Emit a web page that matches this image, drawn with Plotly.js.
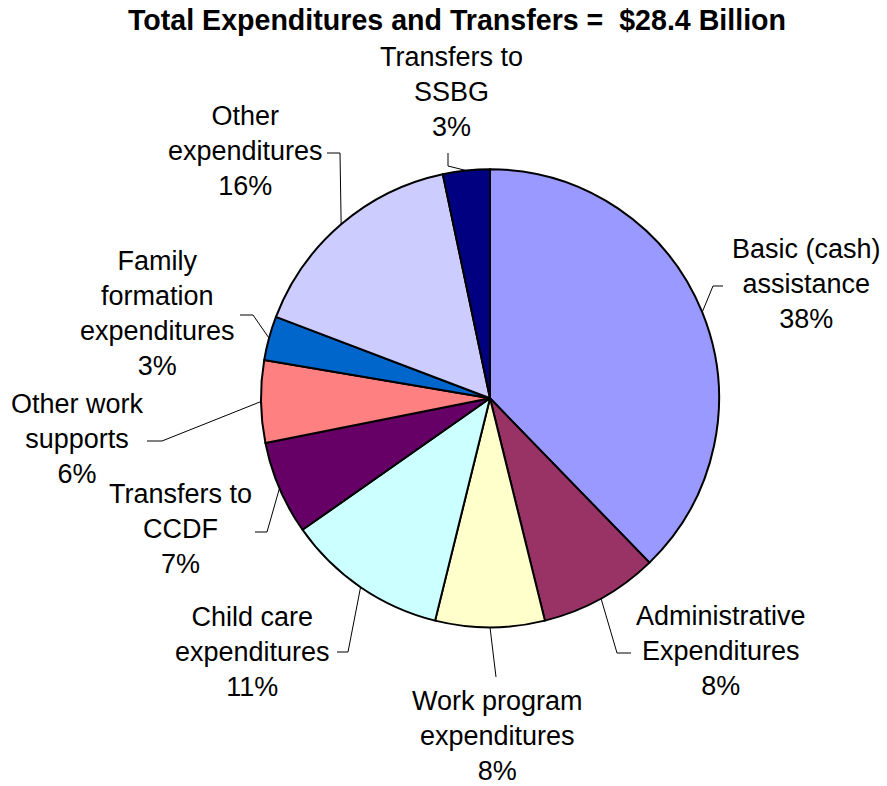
<!DOCTYPE html>
<html>
<head>
<meta charset="utf-8">
<script src="https://cdn.plot.ly/plotly-3.0.1.min.js"></script>
<style>html,body{margin:0;padding:0;background:#fff;}</style>
</head>
<body>
<div id="chart" style="width:887px;height:786px;"></div>
<script>
// ---- data ----
var categories = [
  "Basic (cash)<br>assistance",
  "Administrative<br>Expenditures",
  "Work program<br>expenditures",
  "Child care<br>expenditures",
  "Transfers to<br>CCDF",
  "Other work<br>supports",
  "Family<br>formation<br>expenditures",
  "Other<br>expenditures",
  "Transfers to<br>SSBG"
];
var shares = [37.7, 8.4, 7.7, 11.4, 6.6, 5.8, 3.1, 15.9, 3.3];
var colors = ["#9999FF", "#993366", "#FFFFCC", "#CCFFFF", "#660066",
              "#FF8080", "#0066CC", "#CCCCFF", "#000080"];
var chartTitle = "Total Expenditures and Transfers =  $28.4 Billion";

// ---- layout (pixel geometry) ----
var W = 887, H = 786;
var cx = 490, cy = 398.3, R = 229;
// label centre and leader-line points on label side: [labelX, labelY, ax, ay, bx, by]
var labelGeo = [
  [806, 284, 723, 286, 713, 286],
  [721, 651, 631, 653, 617, 653],
  [497, 736, 496, 677, 496, 677],
  [253, 652, 337, 652, 348, 652],
  [180, 529, 255, 532, 267, 532],
  [77.5, 439, 147, 441, 162, 441],
  [157, 313.5, 240, 315, 253, 315],
  [245, 151, 327, 153, 340, 153],
  [451, 92, 448, 153, 448, 166]
];

function px(x) { return x / W; }
function py(y) { return 1 - y / H; }

var total = shares.reduce(function (a, b) { return a + b; }, 0);
var annotations = [];
var shapes = [];
var cum = 0;
for (var i = 0; i < shares.length; i++) {
  var mid = (cum + shares[i] / 2) / total * 2 * Math.PI;
  cum += shares[i];
  var ex = cx + R * Math.sin(mid);
  var ey = cy - R * Math.cos(mid);
  var g = labelGeo[i];
  var pct = Math.round(shares[i] / total * 100);
  annotations.push({
    xref: "paper", yref: "paper",
    x: px(g[0]), y: py(g[1]),
    xanchor: "center", yanchor: "middle",
    text: categories[i] + "<br>" + pct + "%",
    showarrow: false,
    align: "center",
    font: { family: "Liberation Sans, Arial, sans-serif", size: 27, color: "#000" }
  });
  shapes.push({
    type: "path", xref: "paper", yref: "paper",
    path: "M " + px(g[2]) + "," + py(g[3]) + " L " + px(g[4]) + "," + py(g[5]) +
          " L " + px(ex) + "," + py(ey),
    line: { color: "#000", width: 1 }
  });
}

var trace = {
  type: "pie",
  labels: categories,
  values: shares,
  sort: false,
  direction: "clockwise",
  rotation: 0,
  textinfo: "none",
  hoverinfo: "label+percent",
  marker: { colors: colors, line: { color: "#000", width: 2 } },
  domain: { x: [px(cx - R), px(cx + R)], y: [py(cy + R), py(cy - R)] },
  showlegend: false
};

var layout = {
  width: W, height: H,
  margin: { l: 0, r: 0, t: 0, b: 0 },
  paper_bgcolor: "#fff",
  showlegend: false,
  title: {
    text: "<b>" + chartTitle + "</b>",
    x: 457 / W, xanchor: "center",
    y: 1 - 19.5 / H, yanchor: "middle",
    yref: "container", xref: "container",
    font: { family: "Liberation Sans, Arial, sans-serif", size: 28.6, color: "#000" }
  },
  annotations: annotations,
  shapes: shapes
};

Plotly.newPlot("chart", [trace], layout, { displayModeBar: false, staticPlot: true });
</script>
</body>
</html>
